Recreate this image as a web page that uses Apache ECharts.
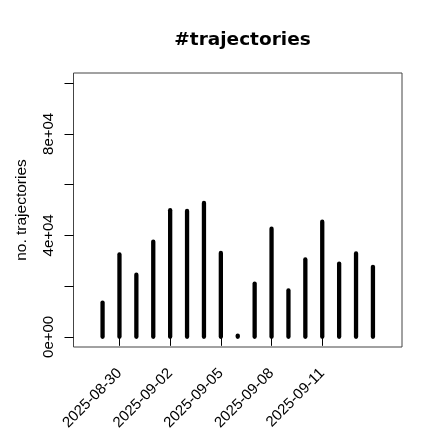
<!DOCTYPE html>
<html>
<head>
<meta charset="utf-8">
<script src="https://cdn.jsdelivr.net/npm/echarts@6/dist/echarts.min.js"></script>
<style>html,body{margin:0;padding:0;background:#fff;}#c{width:440px;height:440px;}</style>
</head>
<body>
<div id="c"></div>
<script>
// Data
var dates = ['2025-08-29','2025-08-30','2025-08-31','2025-09-01','2025-09-02','2025-09-03','2025-09-04','2025-09-05','2025-09-06','2025-09-07','2025-09-08','2025-09-09','2025-09-10','2025-09-11','2025-09-12','2025-09-13','2025-09-14'];
var counts = [13500, 32500, 24500, 37500, 49900, 49600, 52800, 33100, 500, 21000, 42600, 18300, 30500, 45400, 28900, 32900, 27600];
var xTickDates = ['2025-08-30','2025-09-02','2025-09-05','2025-09-08','2025-09-11'];
var yTicks = [0, 20000, 40000, 60000, 80000, 100000];
var yLabelTicks = [0, 40000, 80000];
var xLimDates = ['2025-08-28','2025-09-15'];
var yLim = [0, 100000];

function ts(s){ return Date.parse(s + 'T00:00:00Z'); }
function fmtDate(v){ return new Date(v).toISOString().slice(0,10); }
function fmtSci(v){
  if (v === 0) return '0e+00';
  var e = Math.floor(Math.log10(Math.abs(v)));
  var m = Math.round(v / Math.pow(10, e));
  return m + 'e' + (e >= 0 ? '+' : '-') + (Math.abs(e) < 10 ? '0' : '') + Math.abs(e);
}
var x0 = ts(xLimDates[0]), x1 = ts(xLimDates[1]);
var xr = (x1 - x0) * 0.04;
var yr = (yLim[1] - yLim[0]) * 0.04;

var data = dates.map(function(d, i){ return [ts(d), counts[i]]; });

var chart = echarts.init(document.getElementById('c'), null, {renderer: 'canvas'});
chart.setOption({
  animation: false,
  backgroundColor: '#ffffff',
  title: {
    text: '#trajectories',
    left: 237.5,
    top: 26,
    textAlign: 'center',
    textStyle: {fontFamily: 'DejaVu Sans', fontWeight: 'bold', fontSize: 18.5, color: '#000'}
  },
  grid: {
    left: 73.5, right: 38, top: 73, bottom: 93,
    show: true, borderColor: '#444', borderWidth: 1, backgroundColor: 'transparent'
  },
  xAxis: {
    type: 'value',
    min: x0 - xr, max: x1 + xr,
    splitLine: {show: false},
    axisLine: {show: false},
    axisTick: {show: true, length: 9, customValues: xTickDates.map(ts), lineStyle: {color: '#000'}},
    axisLabel: {
      show: true,
      customValues: xTickDates.map(ts),
      formatter: function(v){ return fmtDate(v); },
      rotate: 45, margin: 24,
      fontSize: 15, color: '#000'
    }
  },
  yAxis: {
    type: 'value',
    min: yLim[0] - yr, max: yLim[1] + yr,
    name: 'no. trajectories',
    nameLocation: 'middle', nameRotate: 90, nameGap: 44,
    nameTextStyle: {fontSize: 15.5, color: '#000'},
    splitLine: {show: false},
    axisLine: {show: false},
    axisTick: {show: true, length: 9, customValues: yTicks, lineStyle: {color: '#000'}},
    axisLabel: {
      show: true, customValues: yLabelTicks,
      formatter: function(v){ return fmtSci(v); },
      rotate: 90, margin: 17,
      fontSize: 15, color: '#000'
    }
  },
  series: [{
    type: 'custom',
    data: data,
    renderItem: function(params, api){
      var x = api.value(0), y = api.value(1);
      var p0 = api.coord([x, 0]);
      var p1 = api.coord([x, y]);
      return {
        type: 'line',
        shape: {x1: p0[0], y1: p0[1], x2: p1[0], y2: p1[1]},
        style: {stroke: '#000', lineWidth: 4.3, lineCap: 'round'}
      };
    }
  }]
});
</script>
</body>
</html>
